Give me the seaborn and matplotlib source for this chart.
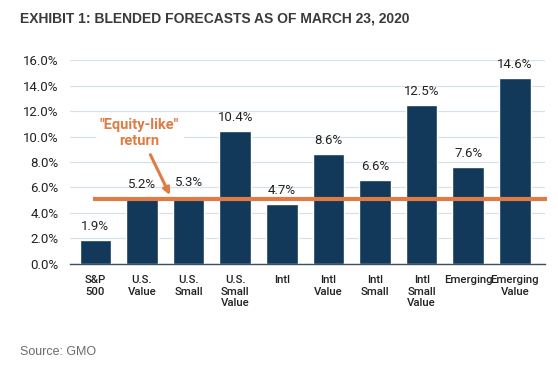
import matplotlib.pyplot as plt
import pandas as pd
import seaborn as sns

categories = ["S&P\n500", "U.S.\nValue", "U.S.\nSmall", "U.S.\nSmall\nValue", "Intl",
              "Intl\nValue", "Intl\nSmall", "Intl\nSmall\nValue", "Emerging", "Emerging\nValue"]
forecasts = [1.9, 5.2, 5.3, 10.4, 4.7, 8.6, 6.6, 12.5, 7.6, 14.6]
equity_like = 5.1
y_ticks = [0, 2, 4, 6, 8, 10, 12, 14, 16]

NAVY = "#12385a"
ORANGE = "#e07b45"
FONT = ["Roboto", "DejaVu Sans"]

sns.set_theme(style="white")
plt.rcParams["font.family"] = FONT

df = pd.DataFrame({"category": categories, "forecast": forecasts})

fig = plt.figure(figsize=(5.58, 3.69), dpi=100)
ax = fig.add_axes([0.125, 0.285, 0.852, 0.552])

sns.barplot(data=df, x="category", y="forecast", color=NAVY, width=0.68,
            saturation=1, ax=ax, zorder=2)

for i, v in enumerate(forecasts):
    ax.text(i, v + 0.55, f"{v:.1f}%", ha="center", va="bottom", fontsize=9.5,
            color="#222222", zorder=4)

ax.set_xlim(-0.55, 9.65)
ax.set_ylim(0, 16)
ax.set_yticks(y_ticks)
ax.set_yticklabels([f"{t:.1f}%" for t in y_ticks], fontsize=9.5, color="#222222")
ax.tick_params(axis="x", labelsize=8.2, colors="#222222", length=0, pad=8)
ax.tick_params(axis="y", length=0, pad=8)
for lbl in ax.get_xticklabels():
    lbl.set_va("top")
    lbl.set_fontweight("medium")
ax.set_xlabel("")
ax.set_ylabel("")
ax.yaxis.grid(True, color="#d5e2ea", linewidth=0.9, zorder=0)
ax.set_axisbelow(True)
for s in ["top", "right", "left"]:
    ax.spines[s].set_visible(False)
ax.spines["bottom"].set_color("#3a4f63")
ax.spines["bottom"].set_linewidth(1.0)

# equity-like return line
ax.plot([-0.05, 9.68], [equity_like, equity_like], color=ORANGE, linewidth=3,
        zorder=3, solid_capstyle="butt", clip_on=False)

ax.annotate("\"Equity-like\"\nreturn", xy=(1.6, 5.4), xytext=(0.95, 10.3),
            ha="center", va="center", fontsize=10.5, fontweight="bold", color=ORANGE,
            linespacing=1.2,
            bbox=dict(boxstyle="square,pad=0.3", fc="white", ec="none"),
            arrowprops=dict(arrowstyle="-|>", color=ORANGE, lw=2.2,
                            mutation_scale=10, shrinkA=2, shrinkB=0),
            zorder=5)

fig.text(0.036, 0.951, "EXHIBIT 1: BLENDED FORECASTS AS OF MARCH 23, 2020",
         fontsize=10, fontweight="bold", color="#3a3a3a", va="center",
         family=["Liberation Sans", "DejaVu Sans"])
fig.text(0.036, 0.046, "Source: GMO", fontsize=9, color="#6b6b6b", va="center",
         family=["Liberation Sans", "DejaVu Sans"])

fig.savefig("out.png", dpi=100)
